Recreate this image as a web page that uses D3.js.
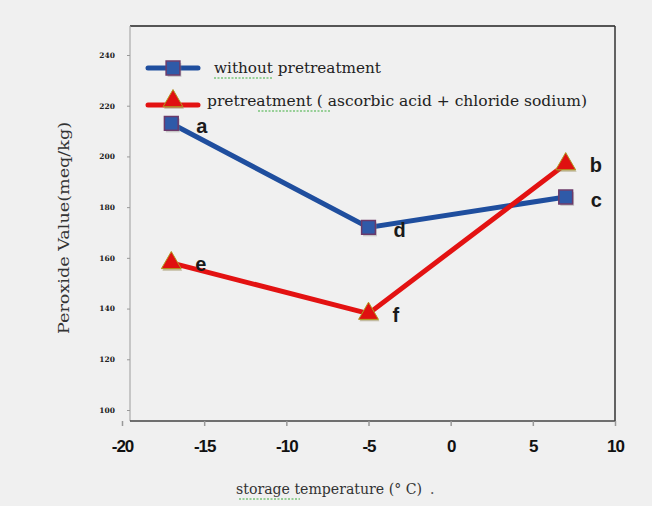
<!DOCTYPE html>
<html><head><meta charset="utf-8">
<script src="https://cdn.jsdelivr.net/npm/d3@7/dist/d3.min.js"></script>
<style>html,body{margin:0;padding:0;background:#f0f0f0;}</style>
</head><body>
<script>
const temps = [-17, -5, 7];
const withoutPre = [213, 172, 184];
const withPre = [158, 138, 197];
const labelsWithout = ["a", "d", "c"];
const labelsWith = ["e", "f", "b"];
const xTicks = [-20, -15, -10, -5, 0, 5, 10];
const yTicks = [100, 120, 140, 160, 180, 200, 220, 240];
const seriesNames = ["without pretreatment", "pretreatment ( ascorbic acid + chloride sodium)"];

const W = 652, H = 506;
const svg = d3.select("body").append("svg").attr("width", W).attr("height", H);
svg.append("rect").attr("width", W).attr("height", H).attr("fill", "#f0f0f0");

const x = d3.scaleLinear().domain([-20, 10]).range([122, 615]);
const y = d3.scaleLinear().domain([100, 240]).range([410, 55]);
const frameL = 130, frameR = 615, frameT = 26, frameB = 421;

// frame
svg.append("line").attr("x1", frameL).attr("x2", frameR).attr("y1", frameT).attr("y2", frameT).attr("stroke", "#222").attr("stroke-width", 1.5);
svg.append("line").attr("x1", frameR).attr("x2", frameR).attr("y1", frameT).attr("y2", frameB).attr("stroke", "#333").attr("stroke-width", 1.5);
svg.append("line").attr("x1", frameL).attr("x2", frameL).attr("y1", frameT).attr("y2", frameB).attr("stroke", "#aaa").attr("stroke-width", 1.2);

// y axis
const yAxis = svg.append("g").attr("transform", `translate(${frameL},0)`)
  .call(d3.axisLeft(y).tickValues(yTicks).tickSize(3).tickPadding(12));
yAxis.select(".domain").remove();
yAxis.selectAll(".tick line").attr("stroke", "#999");
yAxis.selectAll("text").attr("font-family", "'DejaVu Serif', serif").attr("font-size", 7.5)
  .attr("font-weight", "bold").attr("fill", "#222");

// x axis
const xAxis = svg.append("g").attr("transform", `translate(0,${frameB})`)
  .call(d3.axisBottom(x).tickValues(xTicks).tickSize(5).tickPadding(14).tickFormat(d => String(d)));
xAxis.select(".domain").attr("d", `M${frameL},0H${frameR}`).attr("stroke", "#444").attr("stroke-width", 1.5);
xAxis.selectAll(".tick line").attr("stroke", "#999").attr("stroke-width", 1.5);
xAxis.selectAll("text").attr("font-family", "'Liberation Sans Narrow', 'Liberation Sans', Arial, sans-serif")
  .attr("font-size", 17).attr("font-weight", "bold").attr("fill", "#111").attr("letter-spacing", -1);

// axis titles
svg.append("text").attr("transform", "translate(69,228) rotate(-90)").attr("text-anchor", "middle")
  .attr("font-family", "'DejaVu Serif', serif").attr("font-size", 14).attr("fill", "#333")
  .attr("textLength", 212).attr("lengthAdjust", "spacingAndGlyphs")
  .text("Peroxide Value(meq/kg)");
svg.append("text").attr("x", 236).attr("y", 494)
  .attr("font-family", "'DejaVu Serif', serif").attr("font-size", 14).attr("fill", "#333")
  .attr("textLength", 186).attr("lengthAdjust", "spacingAndGlyphs")
  .text("storage temperature (° C)");
svg.append("text").attr("x", 430).attr("y", 494).attr("font-family", "'DejaVu Serif', serif")
  .attr("font-size", 14).attr("fill", "#555").text(".");

const blue = "#1f4e9e", red = "#e31212";
const line = d3.line().x(d => x(d[0])).y(d => y(d[1]));
const dW = temps.map((t, i) => [t, withoutPre[i]]);
const dP = temps.map((t, i) => [t, withPre[i]]);

svg.append("path").datum(dW).attr("d", line).attr("fill", "none").attr("stroke", blue).attr("stroke-width", 5);
svg.append("path").datum(dP).attr("d", line).attr("fill", "none").attr("stroke", red).attr("stroke-width", 5);

const sq = d3.symbol().type(d3.symbolSquare).size(190);
const tri = d3.symbol().type(d3.symbolTriangle).size(170);

function square(g, cx, cy) {
  g.append("path").attr("d", sq).attr("transform", `translate(${cx+1.5},${cy+2})`).attr("fill", "#888").attr("opacity", 0.4);
  g.append("path").attr("d", sq).attr("transform", `translate(${cx},${cy})`).attr("fill", "#2f5aa8").attr("stroke", "#6b3a6a").attr("stroke-width", 1.5);
}
function triangle(g, cx, cy) {
  g.append("path").attr("d", tri).attr("transform", `translate(${cx+1},${cy+2})`).attr("fill", "#8a7a40").attr("opacity", 0.45);
  g.append("path").attr("d", tri).attr("transform", `translate(${cx},${cy})`).attr("fill", "#e01010").attr("stroke", "#b09a20").attr("stroke-width", 1);
}
dW.forEach(d => square(svg, x(d[0]), y(d[1])));
dP.forEach(d => triangle(svg, x(d[0]), y(d[1])));

const lblFont = "'Liberation Sans', Arial, sans-serif";
dW.forEach((d, i) => {
  svg.append("text").attr("x", x(d[0]) + 25).attr("y", y(d[1]) + 10).text(labelsWithout[i])
    .attr("font-family", lblFont).attr("font-size", 20).attr("font-weight", "bold").attr("fill", "#1a1a1a");
});
dP.forEach((d, i) => {
  svg.append("text").attr("x", x(d[0]) + 24).attr("y", y(d[1]) + 8).text(labelsWith[i])
    .attr("font-family", lblFont).attr("font-size", 20).attr("font-weight", "bold").attr("fill", "#1a1a1a");
});

// legend
const lg = svg.append("g");
lg.append("line").attr("x1", 148).attr("x2", 198).attr("y1", 68).attr("y2", 68).attr("stroke", blue).attr("stroke-width", 5).attr("stroke-linecap", "round");
square(lg, 173, 68);
lg.append("text").attr("x", 214).attr("y", 73).text(seriesNames[0])
  .attr("font-family", "'DejaVu Serif', serif").attr("font-size", 15).attr("fill", "#222")
  .attr("textLength", 167).attr("lengthAdjust", "spacingAndGlyphs");
lg.append("line").attr("x1", 148).attr("x2", 198).attr("y1", 105).attr("y2", 105).attr("stroke", red).attr("stroke-width", 5).attr("stroke-linecap", "round");
triangle(lg, 173, 101);
lg.append("text").attr("x", 207).attr("y", 106).text(seriesNames[1])
  .attr("font-family", "'DejaVu Serif', serif").attr("font-size", 15).attr("fill", "#222")
  .attr("textLength", 380).attr("lengthAdjust", "spacingAndGlyphs");
// spell-check underlines
[[214, 272, 78], [258, 330, 111], [239, 300, 499]].forEach(u => {
  lg.append("line").attr("x1", u[0]).attr("x2", u[1]).attr("y1", u[2]).attr("y2", u[2])
    .attr("stroke", "#3fae3f").attr("stroke-width", 1.2).attr("stroke-dasharray", "2,1.5");
});
</script>
</body></html>
